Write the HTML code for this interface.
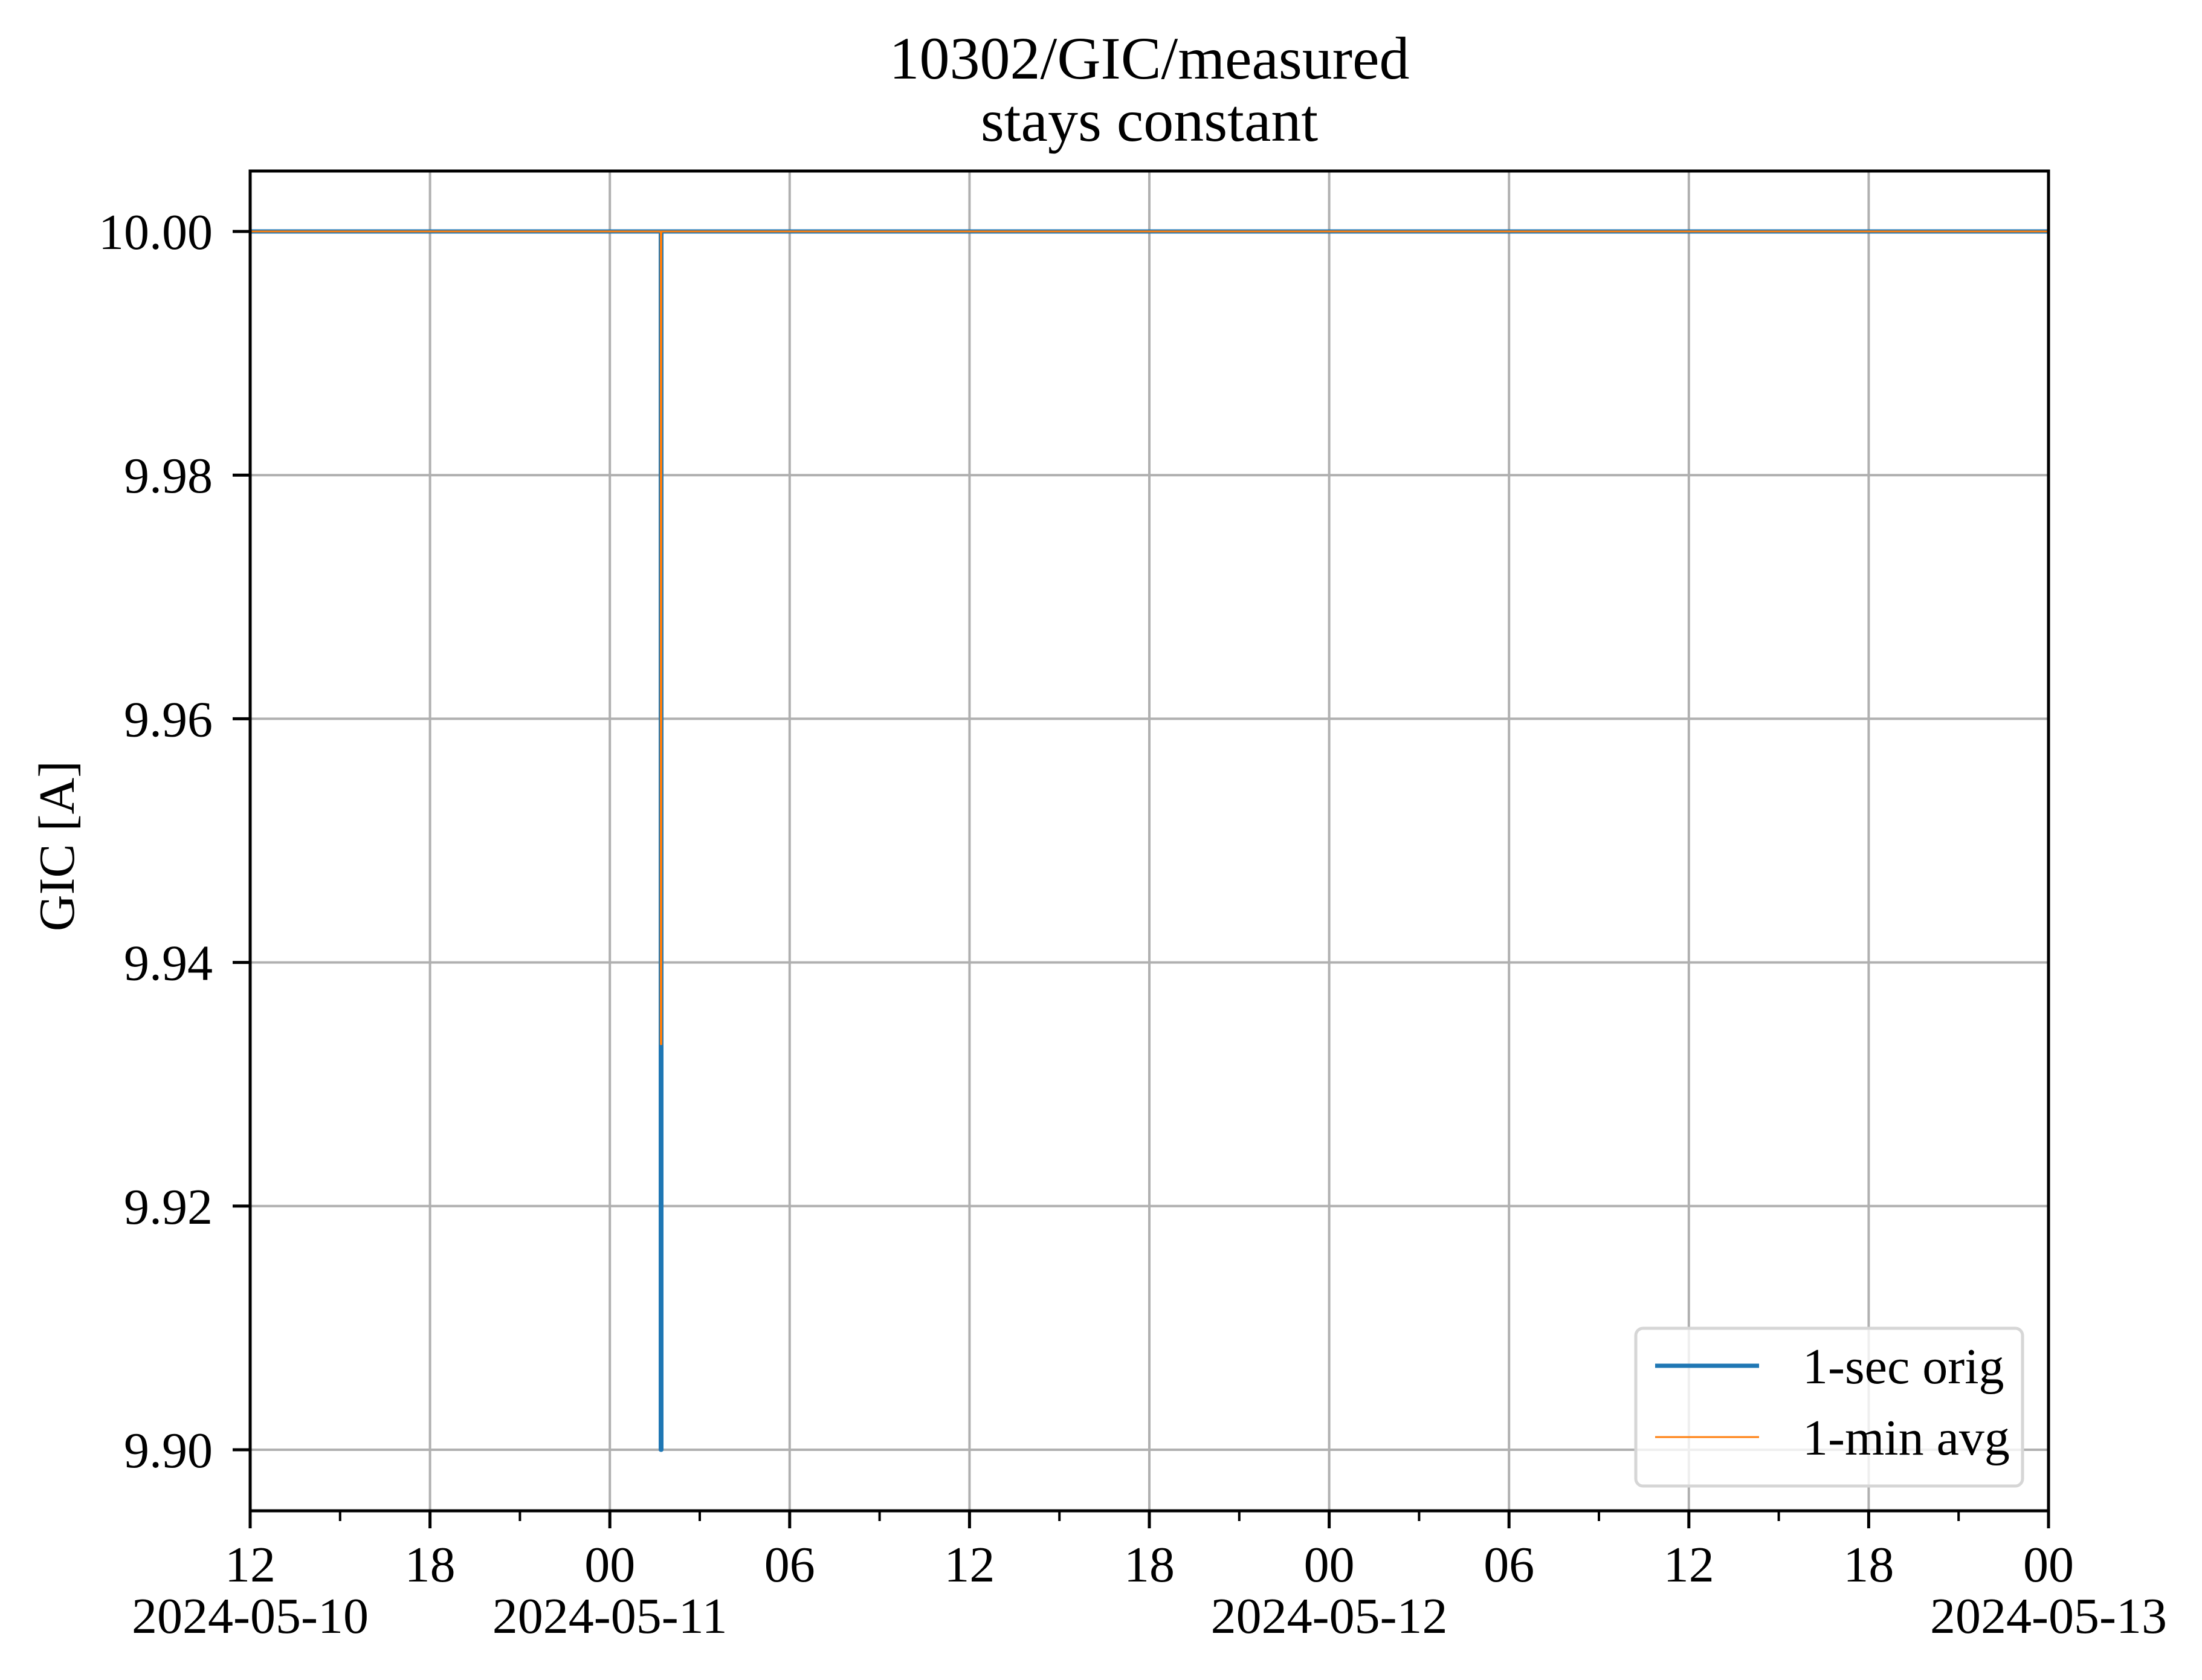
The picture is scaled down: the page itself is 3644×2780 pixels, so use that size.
<!DOCTYPE html>
<html><head><meta charset="utf-8"><style>
html,body{margin:0;padding:0;background:#fff;}
svg{display:block;font-family:"Liberation Serif",serif;}
</style></head><body>
<svg id="chart" width="3644" height="2780" viewBox="0 0 3644 2780" xmlns="http://www.w3.org/2000/svg">
<rect width="3644" height="2780" fill="#fff"/>
<g id="grid"></g>
<g id="series"></g>
<g id="axes"></g>
<g id="legend"></g>
</svg>
<script>
// data (hours since 2024-05-10 12:00)
const secTimes = [0, 13.7, 13.7, 13.72, 13.72, 60];
const secValues = [10.0, 10.0, 9.90, 9.90, 10.0, 10.0];
const minTimes = [0, 13.7, 13.7, 13.72, 13.72, 60];
const minValues = [10.0, 10.0, 9.9333, 9.9333, 10.0, 10.0];
const yTicks = [9.90, 9.92, 9.94, 9.96, 9.98, 10.00];
const xTickHours = [0, 6, 12, 18, 24, 30, 36, 42, 48, 54, 60];
const xTickLabels = ["12","18","00","06","12","18","00","06","12","18","00"];
const xDateLabels = ["2024-05-10","","2024-05-11","","","","2024-05-12","","","","2024-05-13"];

const NS = "http://www.w3.org/2000/svg";
const L = 414, R = 3390, T = 283, B = 2500;
const xMin = 0, xMax = 60;
const xs = h => L + (h - xMin) / (xMax - xMin) * (R - L);
const ys = v => 383 + (10.0 - v) / 0.02 * 403.2;
function mk(tag, attrs, parent) {
  const e = document.createElementNS(NS, tag);
  for (const k in attrs) e.setAttribute(k, attrs[k]);
  parent.appendChild(e);
  return e;
}
const grid = document.getElementById('grid');
const axes = document.getElementById('axes');
const series = document.getElementById('series');
const legend = document.getElementById('legend');

xTickHours.forEach(h => {
  const l = mk('line', {x1: xs(h), x2: xs(h), y1: T, y2: B, stroke: '#b0b0b0', 'stroke-width': 4}, grid);
  
  
});
yTicks.forEach(v => {
  const l = mk('line', {x1: L, x2: R, y1: ys(v), y2: ys(v), stroke: '#b0b0b0', 'stroke-width': 4}, grid);
  
  
});

function pathOf(ts, vs) {
  return ts.map((t, i) => (i ? 'L' : 'M') + xs(t).toFixed(1) + ' ' + ys(vs[i]).toFixed(1)).join(' ');
}
const p1 = mk('path', {d: pathOf(secTimes, secValues), fill: 'none', stroke: '#1f77b4', 'stroke-width': 7, 'stroke-linejoin': 'round'}, series);


const p2 = mk('path', {d: pathOf(minTimes, minValues), fill: 'none', stroke: '#ff7f0e', 'stroke-width': 3}, series);



const fr = mk('rect', {x: L, y: T, width: R - L, height: B - T, fill: 'none', stroke: '#000', 'stroke-width': 5}, axes);



yTicks.forEach(v => {
  mk('line', {x1: L - 29, x2: L, y1: ys(v), y2: ys(v), stroke: '#000', 'stroke-width': 5}, axes);
  const t = mk('text', {x: 352, y: ys(v) + 29, 'text-anchor': 'end', 'font-size': 84}, axes);
  t.textContent = v.toFixed(2);
  
  
});
for (let h = 0; h <= 60; h += 3) {
  const major = h % 6 === 0;
  mk('line', {x1: xs(h), x2: xs(h), y1: B, y2: B + (major ? 29 : 17), stroke: '#000', 'stroke-width': major ? 5 : 4}, axes);
}
xTickHours.forEach((h, i) => {
  const t = mk('text', {x: xs(h), y: 2617, 'text-anchor': 'middle', 'font-size': 84}, axes);
  t.textContent = xTickLabels[i];
  
  
  if (xDateLabels[i]) {
    const d = mk('text', {x: xs(h), y: 2702, 'text-anchor': 'middle', 'font-size': 84}, axes);
    d.textContent = xDateLabels[i];
    
    
  }
});

const lb = mk('rect', {x: 2707, y: 2198, width: 640, height: 261, rx: 12, fill: '#fff', 'fill-opacity': 0.8, stroke: '#d6d6d6', 'stroke-width': 5}, legend);


const entries = [["1-sec orig", '#1f77b4', 7, 2260], ["1-min avg", '#ff7f0e', 3, 2378]];
entries.forEach(e => {
  const ln = mk('line', {x1: 2739, x2: 2911, y1: e[3], y2: e[3], stroke: e[1], 'stroke-width': e[2]}, legend);
  
  
  const t = mk('text', {x: 2983, y: e[3] + 29, 'font-size': 84}, legend);
  t.textContent = e[0];
  
  
});
</script>
<svg style="position:absolute;left:0;top:0" width="3644" height="2780" xmlns="http://www.w3.org/2000/svg">
<text x="1902" y="130" text-anchor="middle" font-size="100" font-family="Liberation Serif, serif">10302/GIC/measured</text>
<text x="1902" y="233" text-anchor="middle" font-size="100" font-family="Liberation Serif, serif">stays constant</text>
<text x="0" y="0" transform="translate(122,1400) rotate(-90)" text-anchor="middle" font-size="84" font-family="Liberation Serif, serif">GIC [A]</text>
</svg>
</body></html>
